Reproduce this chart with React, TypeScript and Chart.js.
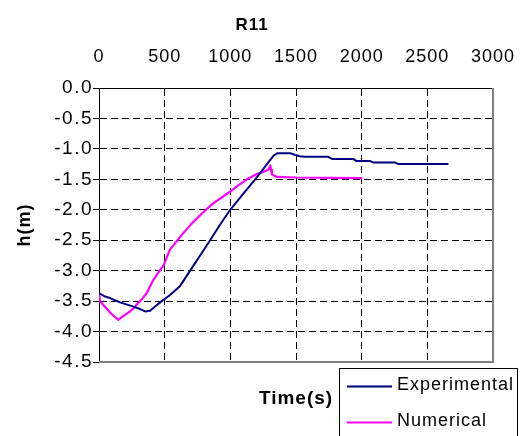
import React, { useEffect, useRef } from "react";
import { Chart, registerables } from "chart.js";

Chart.register(...registerables);

const chartTitle = "R11";
const xTitle = "Time(s)";
const yTitle = "h(m)";
const seriesNames = ["Experimental", "Numerical"];

const expTime = [0, 40, 84, 160, 262, 313, 351, 389, 427, 478, 541, 618, 694, 770, 846, 920, 999, 1090, 1189, 1240, 1289, 1330, 1360, 1400, 1456, 1494, 1530, 1570, 1746, 1775, 1937, 1960, 2066, 2090, 2257, 2280, 2661];
const expHead = [-3.37, -3.42, -3.45, -3.52, -3.59, -3.63, -3.67, -3.66, -3.59, -3.5, -3.4, -3.25, -3.0, -2.75, -2.5, -2.25, -2.0, -1.76, -1.5, -1.36, -1.22, -1.11, -1.07, -1.07, -1.07, -1.1, -1.12, -1.13, -1.13, -1.165, -1.165, -1.2, -1.2, -1.225, -1.225, -1.25, -1.25];

const numTime = [0, 8, 40, 90, 147, 190, 236, 275, 313, 363, 414, 465, 490, 541, 590, 643, 700, 770, 820, 872, 940, 999, 1060, 1126, 1170, 1202, 1250, 1291, 1304, 1310, 1317, 1355, 1500, 2003];
const numHead = [-3.36, -3.5, -3.58, -3.7, -3.81, -3.74, -3.67, -3.59, -3.5, -3.37, -3.15, -2.99, -2.92, -2.65, -2.52, -2.38, -2.24, -2.09, -1.99, -1.89, -1.79, -1.7, -1.6, -1.5, -1.45, -1.41, -1.38, -1.34, -1.27, -1.35, -1.42, -1.46, -1.47, -1.48];

const xMin = 0;
const xMax = 3000;
const xStep = 500;
const yMin = -4.5;
const yMax = 0;
const yStep = 0.5;

const colors = ["#000080", "#ff00ff"];
const FONT = "'Liberation Sans', Arial, sans-serif";
const SPACING = "1px";

const spacingPlugin = {
  id: "spacing",
  beforeUpdate(chart: any) {
    chart.ctx.letterSpacing = SPACING;
  },
  beforeLayout(chart: any) {
    chart.ctx.letterSpacing = SPACING;
  },
  beforeDraw(chart: any) {
    chart.ctx.letterSpacing = SPACING;
  },
};

const framePlugin = {
  id: "frame",
  afterDatasetsDraw(chart: any) {
    const { ctx, chartArea } = chart;
    ctx.save();
    ctx.strokeStyle = "#808080";
    ctx.lineWidth = 2;
    ctx.beginPath();
    ctx.moveTo(chartArea.left, chartArea.bottom);
    ctx.lineTo(chartArea.right, chartArea.bottom);
    ctx.lineTo(chartArea.right, chartArea.top);
    ctx.stroke();
    ctx.restore();
  },
  afterDraw(chart: any) {
    const { ctx } = chart;
    ctx.save();
    ctx.letterSpacing = SPACING;
    ctx.fillStyle = "#000";
    ctx.textAlign = "center";
    ctx.textBaseline = "middle";
    ctx.font = `bold 17px ${FONT}`;
    ctx.fillText(chartTitle, 252, 25);

    // y tick labels
    const ys = chart.scales.y;
    ctx.font = `19px ${FONT}`;
    ctx.textAlign = "right";
    ctx.letterSpacing = "1.5px";
    ys.ticks.forEach((t: any) => {
      const py = ys.getPixelForValue(t.value);
      ctx.fillText(Number(t.value).toFixed(1), 93, py);
    });
    ctx.letterSpacing = SPACING;

    // legend
    const bx = 339.5, by = 368.5, bw = 178, bh = 80;
    ctx.strokeStyle = "#000";
    ctx.lineWidth = 1;
    ctx.strokeRect(bx, by, bw, bh);
    const rows = [386, 422];
    ctx.font = `18px ${FONT}`;
    ctx.textAlign = "left";
    chart.data.datasets.forEach((ds: any, i: number) => {
      ctx.strokeStyle = ds.borderColor;
      ctx.lineWidth = 2;
      ctx.beginPath();
      ctx.moveTo(347, rows[i] + 0.5);
      ctx.lineTo(392, rows[i] + 0.5);
      ctx.stroke();
      ctx.fillStyle = "#000";
      ctx.fillText(ds.label, 397, rows[i] - 1);
    });
    ctx.restore();
  },
};

function toPoints(xs: number[], ys: number[]) {
  return xs.map((x, i) => ({ x, y: ys[i] }));
}

const noPad = (s: any) => {
  s.paddingLeft = 0;
  s.paddingRight = 0;
  s.paddingTop = 0;
  s.paddingBottom = 0;
};

export default function App() {
  const ref = useRef<HTMLCanvasElement | null>(null);
  useEffect(() => {
    document.body.style.margin = "0";
    const canvas = ref.current!;
    const chart = new Chart(canvas, {
      type: "line",
      data: {
        datasets: [
          {
            label: seriesNames[0],
            data: toPoints(expTime, expHead),
            borderColor: colors[0],
            backgroundColor: colors[0],
            borderWidth: 2,
            borderJoinStyle: "round",
            pointRadius: 0,
            tension: 0,
          },
          {
            label: seriesNames[1],
            data: toPoints(numTime, numHead),
            borderColor: colors[1],
            backgroundColor: colors[1],
            borderWidth: 2.2,
            borderJoinStyle: "round",
            pointRadius: 0,
            tension: 0,
          },
        ],
      },
      options: {
        animation: false,
        responsive: false,
        devicePixelRatio: 1,
        layout: { padding: { left: 0, top: 0, right: 30, bottom: 0 } },
        plugins: {
          legend: { display: false },
          title: { display: false },
          tooltip: { enabled: false },
        },
        scales: {
          x: {
            type: "linear",
            position: "top",
            min: xMin,
            max: xMax,
            ticks: {
              stepSize: xStep,
              padding: 20,
              color: "#000",
              font: { family: FONT, size: 18 },
              maxRotation: 0,
              callback: (v: any) => String(v),
            },
            grid: {
              drawTicks: false,
              color: (c: any) =>
                c.tick && (c.tick.value === xMin || c.tick.value === xMax) ? "rgba(0,0,0,0)" : "#000",
              lineWidth: 1,
            },
            border: { display: true, color: "#000", width: 1, dash: [7, 4] },
            afterFit: (s: any) => {
              s.height = 88;
              noPad(s);
            },
          },
          xb: {
            type: "linear",
            position: "bottom",
            min: xMin,
            max: xMax,
            ticks: { display: false },
            grid: { display: false, drawTicks: false },
            border: { display: false },
            title: {
              display: true,
              text: xTitle,
              color: "#000",
              font: { family: FONT, size: 19, weight: "bold" },
              padding: { top: 0, bottom: 26 },
            },
            afterFit: (s: any) => {
              s.height = 74;
              noPad(s);
            },
          },
          y: {
            type: "linear",
            min: yMin,
            max: yMax,
            ticks: {
              stepSize: yStep,
              padding: 2,
              color: "rgba(0,0,0,0)",
              font: { family: FONT, size: 18 },
              callback: (v: any) => Number(v).toFixed(1),
            },
            grid: {
              drawTicks: true,
              tickLength: 6,
              tickColor: "#000",
              tickBorderDash: [],
              color: (c: any) =>
                c.tick && (Math.abs(c.tick.value - yMin) < 1e-9 || Math.abs(c.tick.value - yMax) < 1e-9)
                  ? "rgba(0,0,0,0)"
                  : "#000",
              lineWidth: 1,
            },
            border: { display: true, color: "#000", width: 1, dash: [7, 4] },
            title: {
              display: true,
              text: yTitle,
              color: "#000",
              font: { family: FONT, size: 18, weight: "bold" },
              padding: { top: 14, bottom: 0 },
            },
            afterFit: (s: any) => {
              s.width = 99;
              noPad(s);
            },
          },
        },
      },
      plugins: [spacingPlugin, framePlugin],
    } as any);
    return () => chart.destroy();
  }, []);
  return (
    <div style={{ position: "absolute", left: 0, top: 0, width: 523, height: 436 }}>
      <canvas ref={ref} width={523} height={436} style={{ width: 523, height: 436, display: "block" }} />
    </div>
  );
}
